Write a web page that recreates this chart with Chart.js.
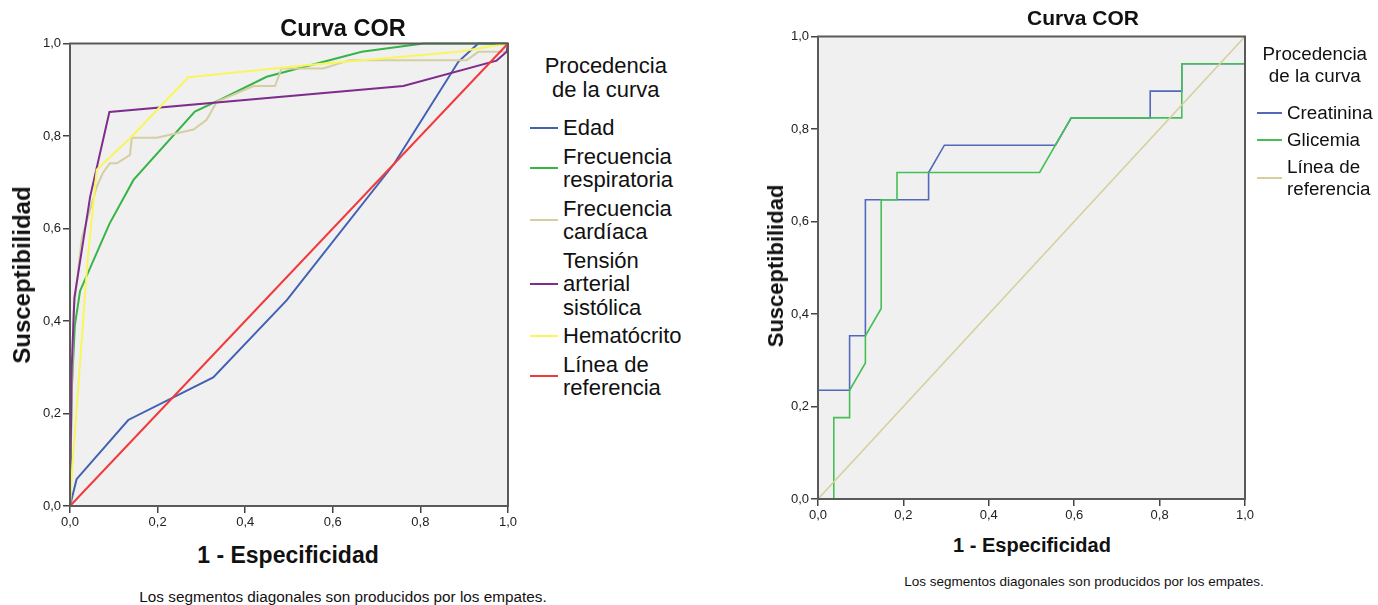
<!DOCTYPE html>
<html>
<head>
<meta charset="utf-8">
<script src="https://cdn.jsdelivr.net/npm/chart.js@4"></script>
<style>
  body { margin: 0; background: #fff; width: 1378px; height: 605px; position: relative; overflow: hidden;
         font-family: "Liberation Sans", Arial, sans-serif; color: #111; }
  canvas { position: absolute; }
  .txt { position: absolute; transform: translate(-50%, -50%); white-space: nowrap; }
  .bold { font-weight: bold; }
  .rot { transform: translate(-50%, -50%) rotate(-90deg); }
  .legend { position: absolute; }
  .legend .head { text-align: center; }
  .legend .item { display: flex; align-items: center; }
  .legend .item span.sw { display: inline-block; flex: none; }
</style>
</head>
<body>
<canvas id="rocLeft" width="520" height="530" style="left:0;top:0"></canvas>
<canvas id="rocRight" width="520" height="525" style="left:740px;top:0"></canvas>

<div class="txt bold" style="left:343px;top:28px;font-size:23.5px">Curva COR</div>
<div class="txt bold rot" style="left:22px;top:275px;font-size:24px">Susceptibilidad</div>
<div class="txt bold" style="left:288px;top:555px;font-size:23px">1 - Especificidad</div>
<div class="txt" style="left:343px;top:597px;font-size:15.3px">Los segmentos diagonales son producidos por los empates.</div>
<div id="legLeft" class="legend" style="left:530px;top:54px;font-size:22px;line-height:23.5px"></div>

<div class="txt bold" style="left:1083px;top:18px;font-size:21px">Curva COR</div>
<div class="txt bold rot" style="left:776px;top:266px;font-size:22px">Susceptibilidad</div>
<div class="txt bold" style="left:1032px;top:545px;font-size:20px">1 - Especificidad</div>
<div class="txt" style="left:1084px;top:581px;font-size:13.5px">Los segmentos diagonales son producidos por los empates.</div>
<div id="legRight" class="legend" style="left:1257px;top:43px;font-size:18.8px;line-height:22px"></div>

<script>
// left chart: points are [1 - especificidad, susceptibilidad]
const edad = [[0,0],[0.015,0.058],[0.133,0.186],[0.327,0.278],[0.495,0.445],[0.74,0.74],[0.887,0.961],[0.932,1],[1,1]];
const frecResp = [[0,0],[0.004,0.25],[0.011,0.39],[0.023,0.465],[0.09,0.61],[0.145,0.705],[0.285,0.853],[0.342,0.878],[0.449,0.928],[0.666,0.982],[0.807,1],[1,1]];
const frecCard = [[0,0],[0.003,0.2],[0.008,0.42],[0.027,0.58],[0.061,0.69],[0.075,0.72],[0.091,0.741],[0.107,0.741],[0.137,0.759],[0.141,0.796],[0.198,0.796],[0.282,0.814],[0.312,0.835],[0.335,0.874],[0.419,0.908],[0.468,0.908],[0.483,0.946],[0.578,0.946],[0.639,0.964],[0.906,0.964],[0.932,0.982],[0.997,0.982],[1,1]];
const tas = [[0,0],[0.004,0.3],[0.01,0.45],[0.046,0.669],[0.09,0.852],[0.761,0.908],[0.974,0.963],[0.997,0.982],[1,1]];
const hematocrito = [[0,0],[0.005,0.08],[0.023,0.31],[0.04,0.53],[0.061,0.727],[0.141,0.799],[0.27,0.927],[0.563,0.955],[0.887,0.982],[1,1]];
const refLine = [[0,0],[1,1]];

// right chart
const creatinina = [[0,0],[0,0.235],[0.074,0.235],[0.074,0.353],[0.111,0.353],[0.111,0.647],[0.259,0.647],[0.259,0.706],[0.296,0.765],[0.556,0.765],[0.593,0.824],[0.778,0.824],[0.778,0.882],[0.852,0.882],[0.852,0.941],[1,0.941],[1,1]];
const glicemia = [[0,0],[0.037,0],[0.037,0.176],[0.074,0.176],[0.074,0.235],[0.111,0.294],[0.111,0.353],[0.148,0.412],[0.148,0.647],[0.185,0.647],[0.185,0.706],[0.519,0.706],[0.593,0.824],[0.852,0.824],[0.852,0.941],[1,0.941],[1,1]];

const tickValues = [0, 0.2, 0.4, 0.6, 0.8, 1];

const leftSeries = [
  { name: ["Edad"], data: edad, color: "#4361b4" },
  { name: ["Frecuencia", "respiratoria"], data: frecResp, color: "#36b446" },
  { name: ["Frecuencia", "cardíaca"], data: frecCard, color: "#d5cea1" },
  { name: ["Tensión", "arterial", "sistólica"], data: tas, color: "#7e2d8c" },
  { name: ["Hematócrito"], data: hematocrito, color: "#f8f65c" },
  { name: ["Línea de", "referencia"], data: refLine, color: "#f13a3c" },
];
const rightSeries = [
  { name: ["Creatinina"], data: creatinina, color: "#5168bb" },
  { name: ["Glicemia"], data: glicemia, color: "#45bf55" },
  { name: ["Línea de", "referencia"], data: refLine, color: "#d6cf9c" },
];

// grey plot background and dark frame, like the SPSS output
const framePlugin = {
  id: "frame",
  beforeDatasetsDraw(chart) {
    const a = chart.chartArea, ctx = chart.ctx;
    ctx.save();
    ctx.fillStyle = "#f0f0f0";
    ctx.fillRect(a.left, a.top, a.width, a.height);
    ctx.restore();
  },
  afterDraw(chart) {
    const a = chart.chartArea, ctx = chart.ctx;
    ctx.save();
    ctx.strokeStyle = "#5a5a5a";
    ctx.lineWidth = 2;
    ctx.strokeRect(a.left, a.top, a.width, a.height);
    ctx.restore();
  }
};

function makeChart(id, series, lw, box) {
  const fmt = (v) => v.toFixed(1).replace(".", ",");
  const axis = {
    type: "linear", min: 0, max: 1,
    afterBuildTicks: (s) => { s.ticks = tickValues.map((v) => ({ value: v })); },
    grid: { drawOnChartArea: false, drawTicks: true, tickLength: 7, color: "#444", lineWidth: 1.5 },
    border: { display: true, color: "#5a5a5a", width: 2 },
    ticks: { callback: fmt, color: "#222", padding: 2, maxRotation: 0,
             font: { family: '"Liberation Sans", Arial', size: 13 } },
  };
  return new Chart(document.getElementById(id), {
    type: "scatter",
    data: {
      datasets: series.map((s, i) => ({
        label: s.name.join(" "),
        data: s.data.map((p) => ({ x: p[0], y: p[1] })),
        showLine: true, borderColor: s.color, backgroundColor: s.color,
        borderWidth: lw, pointRadius: 0, tension: 0, clip: 3,
        order: series.length - i,
      })),
    },
    options: {
      responsive: false, animation: false, events: [],
      layout: { padding: { top: box.top, right: box.right, left: 0, bottom: 0 } },
      plugins: { legend: { display: false }, tooltip: { enabled: false }, title: { display: false } },
      scales: {
        x: { ...axis, afterFit: (s) => { s.height = box.xh; } },
        y: { ...axis, afterFit: (s) => { s.width = box.yw; } },
      },
    },
    plugins: [framePlugin],
  });
}

function buildLegend(id, series, swatch, gap) {
  const el = document.getElementById(id);
  let html = '<div class="head">Procedencia<br>de la curva</div>';
  series.forEach((s, i) => {
    html += '<div class="item" style="margin-top:' + (i === 0 ? gap + 10 : gap) + 'px">' +
      '<span class="sw" style="width:' + swatch + 'px;height:2px;background:' + s.color + ';margin-right:5px"></span>' +
      '<span>' + s.name.join("<br>") + '</span></div>';
  });
  el.innerHTML = html;
}

makeChart("rocLeft", leftSeries, 2, { top: 43.5, right: 12, xh: 24, yw: 70 });
makeChart("rocRight", rightSeries, 1.6, { top: 36.5, right: 15, xh: 26, yw: 78 });
buildLegend("legLeft", leftSeries, 28, 5);
buildLegend("legRight", rightSeries, 25, 5);
</script>
</body>
</html>
